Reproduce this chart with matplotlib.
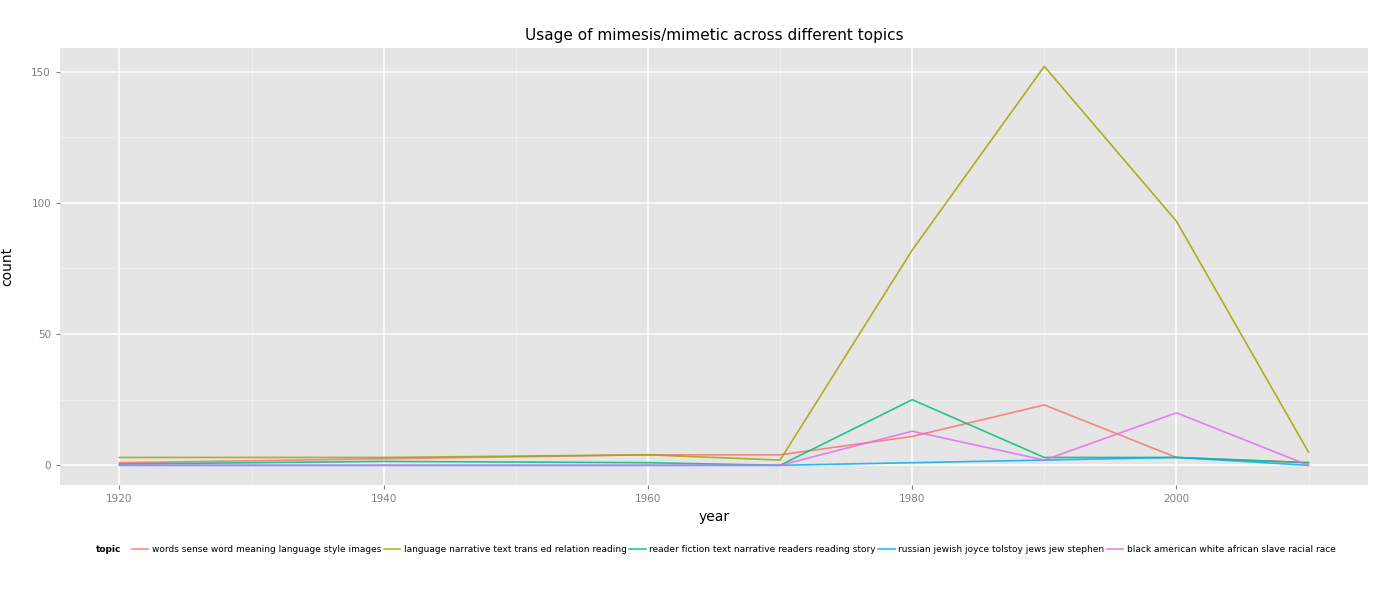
import matplotlib
matplotlib.use("Agg")
import matplotlib.pyplot as plt

years = [1920, 1940, 1960, 1970, 1980, 1990, 2000, 2010]
topics = ["words sense word meaning language style images",
          "language narrative text trans ed relation reading",
          "reader fiction text narrative readers reading story",
          "russian jewish joyce tolstoy jews jew stephen",
          "black american white african slave racial race"]
words = [1, 2.5, 4, 4, 11, 23, 3, 1]
language = [3, 3, 4, 2, 82, 152, 93, 5]
reader = [0.5, 1.5, 1, 0, 25, 3, 3, 1]
russian = [0, 0, 0, 0, 1, 2, 3, 0]
black = [0, 0, 0, 0, 13, 2, 20, 0]
series = [words, language, reader, russian, black]
colors = ["#F8766D", "#A3A500", "#00BF7D", "#00B0F6", "#E76BF3"]

fig = plt.figure(figsize=(13.95, 5.96), dpi=100)
ax = fig.add_axes([60/1395, 1-485/596, 1308/1395, 437/596])
ax.set_facecolor("#E5E5E5")
for s, c, t in zip(series, colors, topics):
    ax.plot(years, s, color=c, lw=1.2, alpha=0.85, label=t)
ax.set_xlim(1915.5, 2014.5)
ax.set_ylim(-7.5, 159)
ax.set_xticks([1920, 1940, 1960, 1980, 2000])
ax.set_yticks([0, 50, 100, 150])
ax.set_xticks([1930, 1950, 1970, 1990, 2010], minor=True)
ax.set_yticks([25, 75, 125], minor=True)
ax.grid(True, which="major", color="white", lw=1.1)
ax.grid(True, which="minor", color="#F2F2F2", lw=0.5)
ax.set_axisbelow(True)
for sp in ax.spines.values():
    sp.set_visible(False)
ax.tick_params(which="major", colors="#7F7F7F", labelsize=7.5, length=3)
ax.tick_params(which="minor", length=0)
for lab in ax.get_xticklabels() + ax.get_yticklabels():
    lab.set_color("#7F7F7F")
ax.set_xlabel("year", fontsize=10)
ax.set_ylabel("count", fontsize=10, labelpad=12)
ax.set_title("Usage of mimesis/mimetic across different topics", fontsize=11)
leg = fig.legend(loc="center", bbox_to_anchor=(0.513, 1-550/596), ncol=5, frameon=False,
                 fontsize=6.5, handlelength=1.8, columnspacing=0.3, handletextpad=0.4,
                 title="topic", title_fontproperties={"weight": "bold", "size": 6.5})
from matplotlib.offsetbox import HPacker
box = leg._legend_box
box.__class__ = HPacker
box.sep = 8
fig.savefig("out.png", dpi=100)
